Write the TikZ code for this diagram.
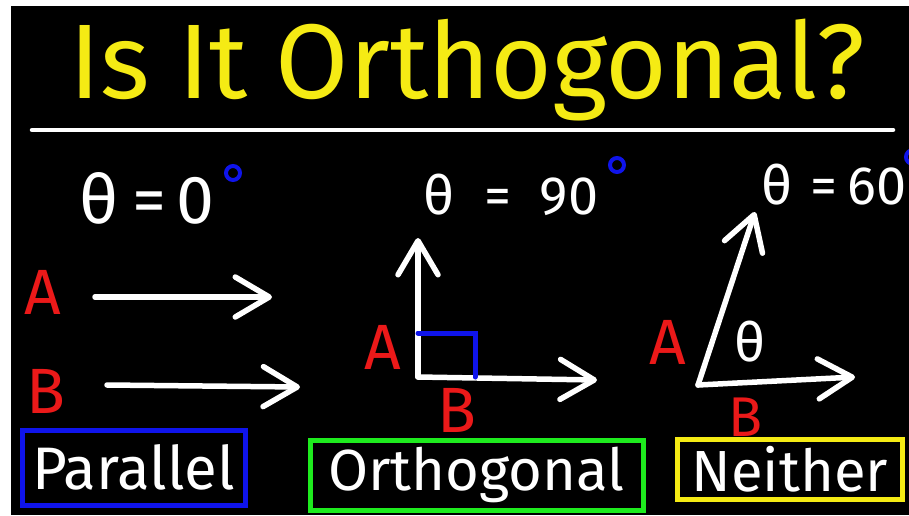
\documentclass[tikz,border=0pt]{standalone}
\usepackage{fontspec}
\setmainfont{Fira Sans}
\usetikzlibrary{arrows.meta}
\definecolor{chalkred}{RGB}{235,25,25}
\definecolor{chalkblue}{RGB}{15,20,235}
\definecolor{chalkgreen}{RGB}{30,235,30}
\definecolor{chalkyellow}{RGB}{245,235,20}
\newcommand{\fs}[1]{\fontsize{#1}{#1}\selectfont}
\tikzset{
  vec/.style={draw=white, line width=5.5pt, line cap=round, line join=round,
    -{Straight Barb[length=34pt, width=40pt, round]}},
  lbl/.style={text=chalkred, inner sep=0pt, font=\fs{64}},
  eqn/.style={text=white, inner sep=0pt},
  tagbox/.style={line width=5pt, inner sep=0pt, text=white, font=\fs{60}},
  deg/.style={draw=chalkblue, line width=4pt, circle, minimum size=14pt, inner sep=0pt},
}
\begin{document}
\begin{tikzpicture}[x=1pt, y=-1pt]
  \fill[white] (0, 0) rectangle (909, 515);
  \fill[black] (11, 6) rectangle (909, 515);
  \useasboundingbox (0, 0) rectangle (909, 515);
  % title and rule
  \node[text=chalkyellow, inner sep=0pt, font=\fs{106}] (title) at (467, 70)
    {Is It Orthogonal?};
  \coordinate (ruleL) at (32, 130);
  \coordinate (ruleR) at (893, 130);
  \draw[white, line width=4.5pt, line cap=round] (ruleL) -- (ruleR);
  % parallel
  \node[eqn, font=\fs{68}] (eqP) at (147, 198) {θ\hspace{14pt}=\hspace{10pt}0};
  \node[deg] (degP) at (233, 173) {};
  \node[lbl] (aP) at (43, 292) {A};
  \node[lbl] (bP) at (46, 391) {B};
  \coordinate (aPs) at (95, 297);
  \coordinate (aPe) at (272, 297);
  \coordinate (bPs) at (107, 385);
  \coordinate (bPe) at (300, 387);
  \draw[vec] (aPs) -- (aPe);
  \draw[vec] (bPs) -- (bPe);
  \node[tagbox, draw=chalkblue, minimum width=223pt, minimum height=75pt] (parallel)
    at (133.5, 467.5) {Parallel};
  % orthogonal
  \node[eqn, font=\fs{54}] (eqO) at (511, 195) {θ\hspace{30pt}=\hspace{28pt}90};
  \node[deg] (degO) at (617, 165) {};
  \coordinate (oO) at (418, 377);
  \coordinate (aOe) at (418, 238);
  \coordinate (bOe) at (597, 380);
  \draw[vec] (oO) -- (aOe);
  \draw[vec] (oO) -- (bOe);
  \draw[chalkblue, line width=5pt, line cap=round] (418, 333) -- (475, 333) -- (475, 377);
  \node[lbl] (aO) at (383, 347) {A};
  \node[lbl] (bO) at (457, 410) {B};
  \node[tagbox, draw=chalkgreen, minimum width=333pt, minimum height=70pt, font=\fs{58}] (orthogonal)
    at (476.5, 475) {Orthogonal};
  % neither
  \node[eqn, font=\fs{54}] (eqN) at (834, 185) {θ\hspace{18pt}=\hspace{10pt}60};
  \node[deg] (degN) at (913, 157) {};
  \coordinate (oN) at (698, 385);
  \coordinate (aNe) at (755, 212);
  \coordinate (bNe) at (855, 377);
  \draw[vec] (oN) -- (aNe);
  \draw[vec] (oN) -- (bNe);
  \node[eqn, font=\fs{54}] (thN) at (750, 342) {θ};
  \node[lbl] (aN) at (668, 342) {A};
  \node[lbl, font=\fs{56}] (bN) at (746, 417) {B};
  \node[tagbox, draw=chalkyellow, minimum width=225pt, minimum height=60pt, font=\fs{58}] (neither)
    at (790, 469) {Neither};
\end{tikzpicture}
\end{document}
